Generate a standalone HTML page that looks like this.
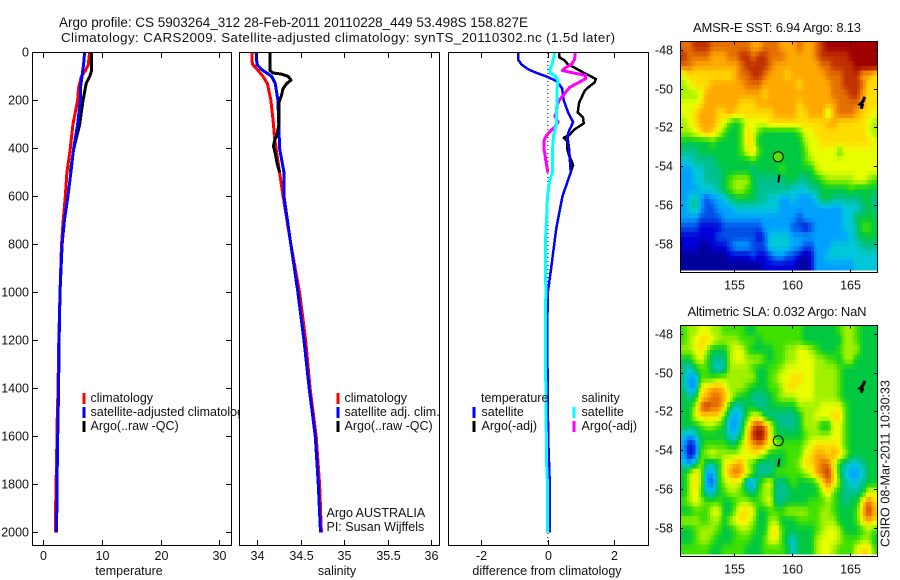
<!DOCTYPE html>
<html lang="en">
<head>
<meta charset="utf-8">
<title>Argo profile 5903264</title>
<style>
html,body{margin:0;padding:0;background:#fff;}
svg{display:block;}
text{font-family:"Liberation Sans",sans-serif;font-size:12.5px;fill:#111;}
.frame{fill:none;stroke:#000;stroke-width:1;shape-rendering:crispEdges;}
.bg{fill:#fff;stroke:none;}
.key{shape-rendering:crispEdges;}
</style>
</head>
<body>
<svg id="chart" xmlns="http://www.w3.org/2000/svg" width="900" height="580" viewBox="0 0 900 580">
  <rect width="900" height="580" fill="#fff"/>
  <text x="59" y="27" style="font-size:13.5px" textLength="469">Argo profile: CS 5903264_312 28-Feb-2011 20110228_449 53.498S 158.827E</text>
  <text x="61" y="42" style="font-size:13.3px" textLength="554">Climatology: CARS2009. Satellite-adjusted climatology: synTS_20110302.nc (1.5d later)</text>

  <g>
    <rect class="bg" x="32" y="52" width="199.5" height="493.5"/>
    <g id="temp-series"></g>
    <g id="temp-axis"></g>
    <rect class="frame" x="32.5" y="52.5" width="199" height="493"/>
    <rect class="key" x="82.5" y="393" width="3" height="11" fill="#f00"/>
    <rect class="key" x="82.5" y="407" width="3" height="11" fill="#00f"/>
    <rect class="key" x="82.5" y="421" width="3" height="11" fill="#000"/>
    <text x="90.5" y="402">climatology</text>
    <text x="90.5" y="416">satellite-adjusted climatology</text>
    <text x="90.5" y="430">Argo(..raw -QC)</text>
    <text x="129" y="575" text-anchor="middle">temperature</text>
  </g>

  <g>
    <rect class="bg" x="239.5" y="52" width="200" height="493.5"/>
    <g id="sal-series"></g>
    <g id="sal-axis"></g>
    <rect class="frame" x="239.5" y="52.5" width="200" height="493"/>
    <rect class="key" x="336.5" y="393" width="3" height="11" fill="#f00"/>
    <rect class="key" x="336.5" y="407" width="3" height="11" fill="#00f"/>
    <rect class="key" x="336.5" y="421" width="3" height="11" fill="#000"/>
    <text x="344.5" y="402">climatology</text>
    <text x="344.5" y="416">satellite adj. clim.</text>
    <text x="344.5" y="430">Argo(..raw -QC)</text>
    <text x="326.5" y="517">Argo AUSTRALIA</text>
    <text x="326.5" y="531">PI: Susan Wijffels</text>
    <text x="337" y="575" text-anchor="middle">salinity</text>
  </g>

  <g>
    <rect class="bg" x="448" y="52" width="200.5" height="493.5"/>
    <g id="diff-series"></g>
    <g id="diff-axis"></g>
    <rect class="frame" x="448.5" y="52.5" width="200" height="493"/>
    <text x="481" y="402">temperature</text>
    <text x="581.5" y="402">salinity</text>
    <rect class="key" x="472.5" y="407" width="3" height="11" fill="#00f"/>
    <rect class="key" x="472.5" y="421" width="3" height="11" fill="#000"/>
    <rect class="key" x="572.5" y="407" width="3" height="11" fill="#0ff"/>
    <rect class="key" x="572.5" y="421" width="3" height="11" fill="#f0f"/>
    <text x="481.5" y="416">satellite</text>
    <text x="481.5" y="430">Argo(-adj)</text>
    <text x="581.5" y="416">satellite</text>
    <text x="581.5" y="430">Argo(-adj)</text>
    <text x="547" y="575" text-anchor="middle">difference from climatology</text>
  </g>

  <g>
    <text x="777" y="32" text-anchor="middle" style="font-size:13px" textLength="168">AMSR-E SST: 6.94 Argo: 8.13</text>
    <g id="sst-cells"></g>
    <g id="sst-overlay"></g>
    <g id="sst-axis"></g>
    <rect class="frame" x="680.5" y="41.5" width="197" height="231"/>
  </g>

  <g>
    <text x="777" y="316" text-anchor="middle" style="font-size:13px" textLength="179">Altimetric SLA: 0.032 Argo: NaN</text>
    <g id="sla-cells"></g>
    <g id="sla-overlay"></g>
    <g id="sla-axis"></g>
    <rect class="frame" x="680.5" y="325.5" width="197" height="231"/>
  </g>

  <text transform="translate(889.5,547) rotate(-90)" textLength="167">CSIRO 08-Mar-2011 10:30:33</text>
</svg>

<script>
/* ---------- shared axis labels ---------- */
const depthTicks = [0, 200, 400, 600, 800, 1000, 1200, 1400, 1600, 1800, 2000];
const tempTicks = [0, 10, 20, 30];
const salTicks = [34, 34.5, 35, 35.5, 36];
const salTickLabels = ["34", "34.5", "35", "35.5", "36"];
const diffTicks = [-2, 0, 2];
const lonTicks = [155, 160, 165];
const latTicks = [-48, -50, -52, -54, -56, -58];

/* ---------- temperature profiles ---------- */
const tempClimDepth = [0, 50, 75, 100, 150, 200, 300, 400, 500, 600, 700, 800, 1000, 1200, 1400, 1550, 1600, 1900, 2000];
const tempClimValue = [7.9, 7.67, 7.2, 6.47, 6.0, 5.85, 5.05, 4.6, 4.03, 3.75, 3.4, 3.1, 2.85, 2.65, 2.5, 2.35, 2.33, 2.1, 2.05];
const tempSatDepth = [0, 50, 100, 150, 200, 300, 400, 500, 600, 700, 800, 1000, 1200, 1400, 1600, 1800, 2000];
const tempSatValue = [7.04, 6.87, 6.6, 6.3, 6.3, 5.85, 5.17, 4.7, 4.2, 3.6, 3.2, 2.85, 2.7, 2.6, 2.45, 2.33, 2.27];
const tempArgoDepth = [0, 75, 100, 130, 170, 200, 250, 300, 350, 400, 450, 500];
const tempArgoValue = [8.23, 8.23, 7.9, 7.3, 7.0, 6.76, 6.47, 6.2, 5.7, 5.2, 4.9, 4.6];

/* ---------- salinity profiles ---------- */
const salClimDepth = [0, 30, 50, 70, 100, 130, 200, 300, 350, 400, 500, 600, 800, 1000, 1200, 1400, 1600, 1800, 2000];
const salClimValue = [33.94, 33.94, 33.95, 34.0, 34.07, 34.12, 34.16, 34.19, 34.2, 34.22, 34.26, 34.3, 34.39, 34.49, 34.56, 34.61, 34.68, 34.72, 34.74];
const salSatDepth = [0, 50, 70, 100, 130, 200, 300, 400, 500, 600, 800, 1000, 1200, 1400, 1600, 1800, 2000];
const salSatValue = [33.99, 34.0, 34.05, 34.17, 34.21, 34.24, 34.25, 34.26, 34.31, 34.31, 34.39, 34.47, 34.54, 34.6, 34.67, 34.705, 34.73];
const salArgoDepth = [0, 75, 85, 90, 100, 115, 130, 150, 180, 210, 270, 300, 340, 370, 390, 420, 460, 500];
const salArgoValue = [34.15, 34.15, 34.18, 34.28, 34.36, 34.39, 34.34, 34.3, 34.28, 34.25, 34.25, 34.25, 34.23, 34.2, 34.19, 34.21, 34.23, 34.26];

/* ---------- differences from climatology ---------- */
const diffTempSatDepth = [0, 30, 50, 70, 85, 100, 120, 150, 200, 250, 290, 330, 350, 400, 500, 600, 730, 780, 900, 1000, 1200, 1400, 1600, 1800, 2000];
const diffTempSatValue = [-0.89, -0.89, -0.79, -0.59, -0.34, -0.04, 0.28, 0.43, 0.48, 0.61, 0.76, 0.63, 0.59, 0.64, 0.69, 0.44, 0.26, 0.21, 0.1, 0.0, -0.02, 0.0, 0.01, 0.06, 0.06];
const diffTempArgoDepth = [0, 20, 30, 50, 60, 75, 90, 110, 125, 140, 160, 180, 210, 250, 270, 295, 320, 345, 355, 370, 400, 430, 450, 470, 490, 500];
const diffTempArgoValue = [0.34, 0.34, 0.48, 0.61, 0.76, 0.96, 1.16, 1.44, 1.41, 1.26, 1.11, 1.04, 0.94, 0.9, 1.06, 1.08, 0.81, 0.64, 0.48, 0.58, 0.58, 0.64, 0.71, 0.76, 0.71, 0.69];
const diffSalSatDepth = [0, 50, 70, 85, 100, 120, 150, 200, 250, 300, 340, 400, 500, 530, 600, 700, 780, 1000, 1200, 1400, 1500, 1700, 1800, 2000];
const diffSalSatValue = [0.21, 0.13, 0.06, 0.06, 0.24, 0.31, 0.28, 0.28, 0.26, 0.26, 0.18, 0.14, 0.14, 0.06, -0.01, -0.04, -0.07, -0.06, -0.07, -0.06, -0.05, -0.04, -0.01, -0.01];
const diffSalArgoDepth = [0, 30, 50, 65, 75, 85, 95, 110, 130, 145, 170, 200, 220, 250, 265, 290, 310, 330, 350, 370, 400, 420, 450, 480, 500];
const diffSalArgoValue = [0.83, 0.8, 0.71, 0.51, 0.44, 0.76, 1.14, 1.13, 0.86, 0.66, 0.51, 0.34, 0.28, 0.26, 0.21, 0.31, 0.21, 0.06, -0.06, -0.12, -0.12, -0.09, -0.06, -0.02, 0.0];

/* ---------- map overlays (float tracks and profile position) ---------- */
const profileLon = [158.827];
const profileLat = [-53.498];
const trackALon = [166.28, 166.14, 165.91, 166.11, 166.06];
const trackALat = [-50.48, -50.66, -50.79, -50.83, -50.95];
const trackBLon = [158.92, 158.84];
const trackBLat = [-54.47, -54.78];
const trackCLon = [166.5];
const trackCLat = [-48.0];

/* ---------- gridded map values: colour level per cell, north to south ---------- */
const sstLevels = [
[12,12,13,13,13,12,12,12,12,12,12,12,11,11,12,12,12,11,11,11,12,11,11,12,13,14,14,14,14,14,14,14,14,14],
[13,12,12,12,12,11,11,11,12,12,13,13,12,13,13,12,12,12,11,11,11,11,11,12,13,13,13,13,13,14,14,14,14,14],
[12,12,11,11,11,11,11,11,11,11,12,13,13,13,13,12,11,11,11,11,11,11,11,11,12,12,13,13,13,13,14,14,14,14],
[9,10,10,10,10,10,10,10,10,11,12,12,13,13,12,11,11,11,10,11,11,11,11,11,11,12,12,12,13,13,13,11,11,10],
[8,9,10,10,10,11,11,11,11,11,11,12,12,12,11,11,11,11,11,11,10,11,11,11,11,11,12,12,13,13,13,12,10,10],
[8,8,8,9,11,11,11,11,11,11,11,11,11,11,10,11,11,11,11,11,11,11,11,11,11,11,12,12,12,13,13,11,10,10],
[9,9,9,10,11,11,11,11,11,11,10,10,10,11,11,11,11,11,11,11,10,11,11,11,11,11,11,12,12,12,12,11,10,10],
[9,9,10,11,11,11,10,10,11,10,10,10,10,10,10,10,11,11,11,11,10,10,11,11,11,8,11,12,12,12,11,10,10,9],
[8,9,10,11,11,11,10,9,7,6,7,9,9,9,9,10,10,10,10,10,10,10,10,10,10,11,11,10,10,10,10,10,9,8],
[8,8,9,10,11,10,9,7,6,6,7,10,9,7,6,6,6,6,6,6,7,9,9,10,10,10,10,10,10,10,10,10,9,8],
[6,6,6,6,6,7,6,6,6,6,7,10,9,6,6,6,6,6,6,6,6,8,9,9,10,10,10,10,10,10,10,10,10,9],
[5,5,5,6,6,6,6,6,6,6,7,9,10,7,6,6,6,6,6,6,6,7,9,9,9,9,9,7,9,9,9,9,9,9],
[4,4,5,5,5,5,6,6,6,6,6,6,7,6,6,6,6,6,6,6,6,7,8,9,9,9,9,9,9,9,9,9,9,9],
[3,3,4,4,5,5,5,6,6,6,6,6,5,6,6,6,6,7,6,6,6,6,6,8,9,9,9,9,9,9,9,9,9,9],
[3,3,4,4,5,5,5,6,7,8,8,8,6,5,5,5,5,5,6,6,5,5,6,6,7,8,8,8,8,8,9,9,8,7],
[3,3,3,4,4,4,5,6,7,8,8,7,6,5,5,5,5,5,5,4,4,4,5,5,6,6,6,6,6,7,6,6,6,6],
[3,4,5,3,2,3,3,4,5,6,6,6,6,5,5,4,4,3,3,4,3,3,3,4,6,6,5,5,5,5,5,6,6,5],
[3,4,5,3,2,2,3,3,3,4,4,4,4,4,4,4,4,3,3,3,3,3,3,3,3,3,3,3,4,4,4,5,6,5],
[3,3,3,2,2,2,2,3,3,3,3,3,3,3,3,3,3,3,3,3,2,3,3,3,3,3,3,3,4,4,6,6,6,6],
[2,2,2,1,1,1,1,2,2,2,2,2,2,2,3,3,3,3,3,2,2,1,2,3,3,3,3,3,4,4,5,7,7,6],
[1,1,1,1,1,1,2,2,2,2,2,2,2,1,2,4,4,4,4,3,3,3,3,3,3,3,3,3,3,4,5,6,6,6],
[1,1,1,0,0,1,1,1,2,3,3,3,2,2,2,4,4,4,4,3,3,2,2,3,3,3,4,4,4,4,4,5,5,5],
[0,0,0,0,0,0,0,0,1,1,1,1,2,1,1,2,3,3,2,2,1,0,1,3,3,4,4,4,4,4,4,4,4,4],
[0,0,0,0,0,0,0,0,0,0,0,0,0,0,1,1,1,1,1,1,0,0,1,3,3,3,3,3,3,3,4,4,4,4]
];
const slaLevels = [
[7,8,8,9,9,8,8,7,7,7,7,6,6,7,7,7,7,7,7,7,7,6,6,6,6,6,6,7,8,8,7,6,6,6],
[7,8,9,10,10,9,8,8,8,8,7,7,7,6,7,7,7,7,7,7,7,6,6,6,6,6,6,6,8,8,7,6,6,6],
[8,8,9,10,8,6,6,6,8,9,9,7,6,6,6,6,7,7,8,8,9,9,8,7,6,6,6,7,8,8,8,6,6,6],
[6,6,8,9,7,5,5,5,8,9,9,8,8,8,7,6,7,7,8,8,9,9,9,8,8,7,7,6,8,8,6,6,6,6],
[5,4,6,7,7,5,4,5,8,8,8,8,7,6,6,7,7,8,9,9,9,9,9,8,8,8,8,7,6,6,6,6,6,6],
[5,3,3,7,7,7,8,8,8,8,8,8,8,6,6,7,8,9,9,10,10,9,9,8,8,8,8,7,6,6,6,6,6,6],
[5,3,3,9,10,11,11,10,8,8,8,7,6,6,6,7,7,8,10,10,9,9,9,8,8,8,8,7,6,6,6,6,6,6],
[6,5,6,10,11,12,12,11,9,7,6,6,5,5,5,6,7,8,8,8,9,9,9,8,8,8,8,7,6,6,6,6,6,6],
[6,6,8,12,13,12,12,10,6,4,5,6,6,5,5,6,6,6,6,6,8,8,8,8,9,9,9,9,7,6,6,6,6,6],
[6,6,9,10,10,10,10,7,4,3,4,7,9,9,6,5,5,5,5,5,6,8,8,9,9,9,10,10,7,6,6,6,6,6],
[6,6,6,7,8,8,7,6,3,3,5,9,12,13,12,9,6,5,5,5,6,8,8,8,6,6,9,9,7,6,6,6,6,6],
[4,3,4,6,6,6,6,6,4,4,6,10,13,14,13,9,6,6,6,6,6,7,8,8,8,8,9,9,7,6,6,6,6,6],
[3,1,2,6,7,7,7,7,6,6,8,10,11,12,11,9,8,7,7,7,7,8,9,10,10,10,10,9,7,6,6,6,6,6],
[3,1,2,7,8,9,8,8,8,8,9,9,10,9,8,6,6,6,7,7,7,9,10,11,11,10,11,10,8,6,6,6,6,6],
[4,3,5,8,5,5,6,9,10,11,11,8,7,5,5,5,6,6,7,7,8,10,10,11,12,12,9,6,5,4,4,5,6,6],
[6,8,10,8,3,3,6,9,11,12,11,9,7,5,5,5,7,7,7,7,7,8,9,11,12,13,10,6,4,3,3,4,6,6],
[6,8,10,8,3,2,6,8,9,9,8,3,3,6,8,9,5,5,6,7,6,6,6,7,10,12,10,7,5,4,4,5,6,6],
[6,8,10,7,4,4,6,7,8,8,7,6,5,7,8,8,5,5,5,6,6,6,6,6,8,10,7,6,5,5,5,6,9,9],
[7,8,9,8,7,7,7,6,6,7,8,8,7,7,8,9,5,5,6,6,6,6,7,7,7,8,7,6,5,6,6,10,12,10],
[6,6,7,7,7,9,9,6,6,8,10,10,9,6,6,7,7,7,8,8,8,8,7,7,8,8,7,6,6,6,7,11,13,11],
[8,8,8,7,7,8,8,6,8,9,10,9,8,6,6,8,8,6,6,6,7,7,7,7,8,8,8,6,6,6,7,10,11,10],
[6,6,7,8,8,8,7,6,6,7,8,8,7,6,6,9,10,7,6,6,6,6,6,7,8,9,9,8,6,6,6,7,8,7],
[6,6,7,8,8,7,6,6,6,7,7,7,6,6,7,9,9,7,5,4,6,6,6,8,9,9,9,8,7,7,7,8,8,6],
[7,7,7,7,7,6,6,7,7,7,7,6,6,6,7,7,7,7,6,4,6,6,6,8,9,9,8,7,7,7,9,10,10,7]
];

/* ---------- rendering ---------- */
const NS = 'http://www.w3.org/2000/svg';
const levelPalette = [[0,0,154],[0,0,216],[0,80,232],[0,160,255],[0,200,216],[0,192,144],[0,200,64],[64,224,0],[160,240,0],[232,255,0],[255,220,0],[255,168,0],[228,112,0],[192,48,0],[160,0,0]];

function make(tag, parent, props) {
  const el = document.createElementNS(NS, tag);
  for (const key in props) el.setAttribute(key, props[key]);
  parent.appendChild(el);
  return el;
}
function linear(v0, p0, v1, p1) {
  return v => p0 + (v - v0) * (p1 - p0) / (v1 - v0);
}
const depthY = linear(0, 52.5, 2000, 532.5);

function drawProfile(groupId, name, depths, values, xScale, color, width) {
  const pts = depths.map((d, i) => xScale(values[i]).toFixed(1) + ',' + depthY(d).toFixed(1)).join(' ');
  const line = make('polyline', document.getElementById(groupId), {points: pts, fill: 'none', stroke: color, 'stroke-width': width, 'stroke-linejoin': 'round', 'shape-rendering': 'crispEdges'});
  
  
}

function drawBottomAxis(groupId, panelName, ticks, labels, xScale, showDepth, left, right) {
  const g = document.getElementById(groupId);
  ticks.forEach((t, i) => {
    const x = Math.round(xScale(t)) + 0.5;
    [[545, 540], [53, 58]].forEach(pair => {
      const tick = make('line', g, {x1: x, x2: x, y1: pair[0], y2: pair[1], stroke: '#000', 'shape-rendering': 'crispEdges'});
      
      
    });
    const label = make('text', g, {x: x, y: 560, 'text-anchor': 'middle'});
    label.textContent = labels[i];
    
    
  });
  if (!showDepth) return;
  depthTicks.forEach(d => {
    const y = Math.floor(depthY(d)) + 0.5;
    [[left, left + 5], [right, right - 5]].forEach(pair => {
      const tick = make('line', g, {x1: pair[0], x2: pair[1], y1: y, y2: y, stroke: '#000', 'shape-rendering': 'crispEdges'});
      
      
    });
    const label = make('text', g, {x: left - 4, y: y + 4, 'text-anchor': 'end'});
    label.textContent = String(d);
    
    
  });
}

const tempX = linear(0, 43.3, 30, 219.3);
const salX = linear(34, 257, 36, 431);
const diffX = linear(-2, 481.3, 2, 614.3);

drawProfile('temp-series', 'temperature-climatology-line', tempClimDepth, tempClimValue, tempX, '#f00', 3);
drawProfile('temp-series', 'temperature-argo-line', tempArgoDepth, tempArgoValue, tempX, '#000', 3);
drawProfile('temp-series', 'temperature-satellite-line', tempSatDepth, tempSatValue, tempX, '#00f', 3);
drawBottomAxis('temp-axis', 'temperature', tempTicks, tempTicks.map(String), tempX, true, 33, 231);

drawProfile('sal-series', 'salinity-climatology-line', salClimDepth, salClimValue, salX, '#f00', 3);
drawProfile('sal-series', 'salinity-satellite-line', salSatDepth, salSatValue, salX, '#00f', 3);
drawProfile('sal-series', 'salinity-argo-line', salArgoDepth, salArgoValue, salX, '#000', 3);
drawBottomAxis('sal-axis', 'salinity', salTicks, salTickLabels, salX, false, 240, 439);

const zeroLine = make('line', document.getElementById('diff-series'), {x1: diffX(0), x2: diffX(0), y1: 53, y2: 545, stroke: '#000', 'stroke-dasharray': '1 3'});


drawProfile('diff-series', 'diff-temperature-argo-line', diffTempArgoDepth, diffTempArgoValue, diffX, '#000', 2.5);
drawProfile('diff-series', 'diff-temperature-satellite-line', diffTempSatDepth, diffTempSatValue, diffX, '#00f', 2.5);
drawProfile('diff-series', 'diff-salinity-argo-line', diffSalArgoDepth, diffSalArgoValue, diffX, '#f0f', 3);
drawProfile('diff-series', 'diff-salinity-satellite-line', diffSalSatDepth, diffSalSatValue, diffX, '#0ff', 3);
drawBottomAxis('diff-axis', 'difference', diffTicks, diffTicks.map(String), diffX, false, 449, 648);

/* Continuous colour lookup for a fractional level. */
function levelColor(level) {
  const lo = Math.max(0, Math.min(levelPalette.length - 1, Math.floor(level)));
  const hi = Math.min(levelPalette.length - 1, lo + 1);
  const f = level - lo;
  const c = levelPalette[lo].map((v, i) => Math.round(v + (levelPalette[hi][i] - v) * f));
  return 'rgb(' + c.join(',') + ')';
}
/* Display shading: each grid cell is painted as 2x2 screen blocks, blended with its neighbours. */
function shade(levels, u, v) {
  const rows = levels.length, cols = levels[0].length;
  const cu = Math.max(0, Math.min(cols - 1.001, u - 0.5));
  const cv = Math.max(0, Math.min(rows - 1.001, v - 0.5));
  const c0 = Math.floor(cu), r0 = Math.floor(cv);
  const fu = cu - c0, fv = cv - r0;
  return (levels[r0][c0] * (1 - fu) + levels[r0][c0 + 1] * fu) * (1 - fv) +
         (levels[r0 + 1][c0] * (1 - fu) + levels[r0 + 1][c0 + 1] * fu) * fv;
}

function drawMap(prefix, levels, top, lat48Y, fillMarker) {
  const lonX = linear(155, 734, 165, 849.5);
  const latY = linear(-48, lat48Y, -58, lat48Y + 193.7);
  const cells = document.getElementById(prefix + '-cells');
  const lonStart = 150.41, lonStep = 0.25;
  const latStart = -48 + (lat48Y - (top + 0.5)) / 19.37, latStep = 0.24525;
  const rows = levels.length * 2, cols = levels[0].length * 2;
  for (let r = 0; r < rows; r++) {
    for (let c = 0; c < cols; c++) {
      const x0 = lonX(lonStart + c * lonStep), x1 = lonX(lonStart + (c + 1) * lonStep);
      const y0 = latY(latStart - r * latStep), y1 = latY(latStart - (r + 1) * latStep);
      const value = shade(levels, (c + 0.5) / 2, (r + 0.5) / 2);
      const cell = make('rect', cells, {x: x0.toFixed(2), y: y0.toFixed(2), width: (x1 - x0 + 0.3).toFixed(2), height: (y1 - y0 + 0.3).toFixed(2), fill: levelColor(value), 'shape-rendering': 'crispEdges'});
      
      
    }
  }

  const overlay = document.getElementById(prefix + '-overlay');
  [[trackALon, trackALat], [trackBLon, trackBLat], [trackCLon, trackCLat]].forEach(track => {
    const pts = track[0].map((lon, i) => lonX(lon).toFixed(1) + ',' + latY(track[1][i]).toFixed(1)).join(' ');
    const path = make('polyline', overlay, {points: pts, fill: 'none', stroke: '#000', 'stroke-width': track[0].length > 2 ? 3 : (track[0].length > 1 ? 2 : 1), 'stroke-linecap': 'square'});
    
    
  });
  const marker = make('circle', overlay, {cx: lonX(profileLon[0]).toFixed(1), cy: latY(profileLat[0]).toFixed(1), r: 5, fill: fillMarker, stroke: '#000', 'stroke-width': 1});
  
  

  const axis = document.getElementById(prefix + '-axis');
  const bottom = top + 231;
  lonTicks.forEach(lon => {
    const x = Math.round(lonX(lon)) + 0.5;
    [[top, top + 3], [bottom, bottom - 3]].forEach(pair => {
      const tick = make('line', axis, {x1: x, x2: x, y1: pair[0], y2: pair[1], stroke: '#000', 'shape-rendering': 'crispEdges'});
      
      
    });
    const label = make('text', axis, {x: x, y: bottom + 17, 'text-anchor': 'middle'});
    label.textContent = String(lon);
    
    
  });
  latTicks.forEach(lat => {
    const y = Math.floor(latY(lat)) + 0.5;
    [[680, 683], [877, 874]].forEach(pair => {
      const tick = make('line', axis, {x1: pair[0], x2: pair[1], y1: y, y2: y, stroke: '#000', 'shape-rendering': 'crispEdges'});
      
      
    });
    const label = make('text', axis, {x: 673, y: y + 4, 'text-anchor': 'end'});
    label.textContent = String(lat);
    
    
  });
}

drawMap('sst', sstLevels, 41.5, 50.3, '#60e000');
drawMap('sla', slaLevels, 325.5, 334.3, 'none');
</script>
</body>
</html>
